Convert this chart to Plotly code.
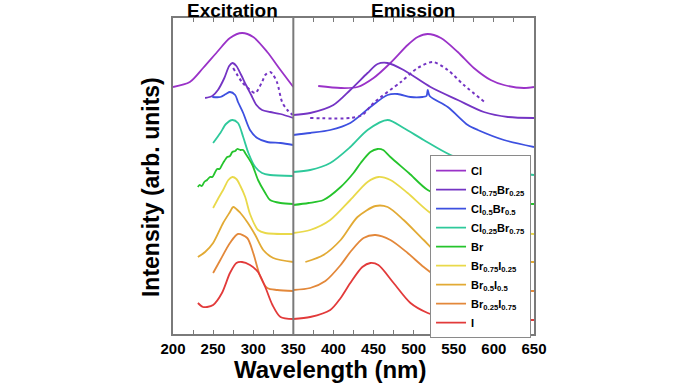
import plotly.graph_objects as go

# ---- data (wavelength in nm, intensity in arb. units incl. vertical offset) ----
names = ["Cl", "Cl<sub>0.75</sub>Br<sub>0.25</sub>", "Cl<sub>0.5</sub>Br<sub>0.5</sub>",
         "Cl<sub>0.25</sub>Br<sub>0.75</sub>", "Br", "Br<sub>0.75</sub>I<sub>0.25</sub>",
         "Br<sub>0.5</sub>I<sub>0.5</sub>", "Br<sub>0.25</sub>I<sub>0.75</sub>", "I"]
colors = ["#9a32c8", "#7434c4", "#3d50e0", "#2ec99b", "#25c42c",
          "#e9d94a", "#e2aa34", "#e3883a", "#e23a3a"]

cl_exc_nm = [200, 221, 237.5, 255, 271, 286, 300, 317.5, 334, 350]
cl_exc_i = [247, 252, 266, 282, 296, 301, 297, 282, 264, 247]
cl_em_nm = [381, 409, 430, 450, 471, 492.5, 505, 517.5, 534, 555, 575, 596, 612.5, 637.5, 650]
cl_em_i = [248, 246, 247, 256, 271, 289, 297, 300, 296, 282, 266, 254, 249, 246, 247]

clbr1_exc_nm = [240, 249, 256, 264, 270, 274, 279, 285, 291, 297.5, 304, 311, 321, 334, 350]
clbr1_exc_i = [236, 238, 244, 256, 268, 271, 268, 259, 249, 239, 229, 224, 222, 220, 216]
clbr1_em_nm = [350, 371, 400, 421, 442.5, 455, 467.5, 487.5, 521, 555, 587.5, 617.5, 650]
clbr1_em_i = [219, 221, 229, 244, 261, 270, 271, 264, 247, 234, 222, 217, 216]

dot_exc_nm = [275, 286, 296, 302.5, 311, 315, 321, 325, 330, 336, 342.5, 349]
dot_exc_i = [266, 252, 244, 241, 252, 259, 262, 259, 251, 232, 224, 219]
dot_em_nm = [371, 421, 436, 450, 484, 505, 524, 542.5, 562.5, 590]
dot_em_i = [216, 216, 219, 231, 252, 266, 272, 264, 249, 231]

clbr2_exc_nm = [249, 259, 266, 271, 277.5, 281, 287.5, 296, 305, 317.5, 334, 350]
clbr2_exc_i = [237, 237, 240, 242, 239, 232, 221, 204, 196, 192, 191, 189]
clbr2_em_nm = [350, 371, 396, 421, 446, 467.5, 480, 496, 511, 516, 517.5, 520, 542.5, 567.5, 580, 612.5, 650]
clbr2_em_i = [199, 201, 204, 211, 227, 239, 240, 237, 237, 238, 244, 238, 227, 209, 204, 194, 187]

clbr3_exc_nm = [250, 259, 266, 274, 281, 287.5, 294, 302.5, 311, 321, 350]
clbr3_exc_i = [191, 201, 210, 214, 211, 197, 181, 167, 161, 159, 158]
clbr3_em_nm = [350, 371, 396, 421, 442.5, 467.5, 487.5, 512.5, 546, 584, 621, 650]
clbr3_em_i = [162, 164, 171, 187, 204, 214, 206, 194, 179, 169, 162, 159]

br_exc_nm = [231, 233, 236, 239, 242.5, 246, 249, 252, 255, 258, 261, 264, 267.5, 271, 274,
             277.5, 280, 284, 287.5, 290, 294, 299, 306, 315, 321, 334, 350]
br_exc_i = [147, 149, 148, 152, 154, 157, 157, 161, 165, 165, 169, 173, 177, 178, 182,
            183, 185, 184, 184, 181, 176, 169, 154, 141, 134, 131, 130]
br_em_nm = [350, 369, 387.5, 409, 425, 434, 446, 455, 462, 471, 494, 517.5, 550, 590, 650]
br_em_i = [129, 131, 134, 147, 161, 171, 182, 185, 184, 177, 161, 144, 134, 131, 130]

bri1_exc_nm = [250, 256, 262.5, 269, 274, 279, 284, 290, 296, 306, 315, 350]
bri1_exc_i = [126, 135, 144, 154, 157, 155, 148, 137, 120, 104, 101, 100]
bri1_em_nm = [350, 371, 396, 421, 442.5, 456, 471, 492.5, 521, 559, 650]
bri1_em_i = [101, 104, 114, 134, 152, 157, 154, 141, 121, 106, 100]

bri2_exc_nm = [231, 240, 250, 262.5, 271, 275, 284, 292.5, 302.5, 312.5, 325, 350]
bri2_exc_i = [77, 82, 91, 111, 122, 127, 121, 112, 99, 84, 76, 72]
bri2_em_nm = [365, 387.5, 409, 430, 452.5, 467.5, 487.5, 512.5, 530, 571, 650]
bri2_em_i = [72, 79, 94, 117, 128, 127, 114, 94, 81, 74, 72]

bri3_exc_nm = [250, 259, 271, 281, 292.5, 300, 309, 317.5, 330, 350]
bri3_exc_i = [61, 74, 91, 100, 96, 81, 57, 46, 44, 43]
bri3_em_nm = [350, 371, 390, 409, 421, 437.5, 452.5, 471, 492.5, 512.5, 530, 571, 650]
bri3_em_i = [44, 46, 53, 69, 82, 96, 99, 94, 81, 67, 57, 46, 43]

i_exc_nm = [231, 237.5, 242.5, 250, 261, 271, 279, 286, 296, 306, 315, 324, 334, 350]
i_exc_i = [31, 27, 27, 29, 41, 61, 71, 72, 69, 62, 47, 29, 17, 15]
i_em_nm = [350, 371, 396, 409, 421, 436, 446, 456, 475, 496, 517.5, 534, 571, 650]
i_em_i = [15, 17, 24, 36, 51, 67, 71, 69, 51, 31, 21, 17, 15, 14]

x_tick_vals = [200, 250, 300, 350, 400, 450, 500, 550, 600, 650]

series = [
    (cl_exc_nm, cl_exc_i, cl_em_nm, cl_em_i),
    (clbr1_exc_nm, clbr1_exc_i, clbr1_em_nm, clbr1_em_i),
    (clbr2_exc_nm, clbr2_exc_i, clbr2_em_nm, clbr2_em_i),
    (clbr3_exc_nm, clbr3_exc_i, clbr3_em_nm, clbr3_em_i),
    (br_exc_nm, br_exc_i, br_em_nm, br_em_i),
    (bri1_exc_nm, bri1_exc_i, bri1_em_nm, bri1_em_i),
    (bri2_exc_nm, bri2_exc_i, bri2_em_nm, bri2_em_i),
    (bri3_exc_nm, bri3_exc_i, bri3_em_nm, bri3_em_i),
    (i_exc_nm, i_exc_i, i_em_nm, i_em_i),
]

FONT = "Liberation Sans, Arial, sans-serif"
fig = go.Figure()

for name, col, (xe, ye, xm, ym) in zip(names, colors, series):
    fig.add_trace(go.Scatter(
        x=list(xe) + [None] + list(xm), y=list(ye) + [None] + list(ym),
        mode="lines", name=name, connectgaps=False,
        line=dict(color=col, width=1.8, shape="spline", smoothing=0.8)))

fig.add_trace(go.Scatter(
    x=dot_exc_nm + [None] + dot_em_nm, y=dot_exc_i + [None] + dot_em_i,
    mode="lines", showlegend=False, connectgaps=False,
    line=dict(color=colors[1], width=2, dash="dot", shape="spline", smoothing=0.8)))

fig.add_shape(type="line", xref="x", yref="paper", x0=350, x1=350, y0=0, y1=1,
              line=dict(color="#7a7a7a", width=2))

fig.update_layout(
    width=679, height=383, autosize=False,
    margin=dict(l=173, r=145, t=18, b=49),
    plot_bgcolor="white", paper_bgcolor="white",
    font=dict(family=FONT, color="black"),
    showlegend=True,
    legend=dict(x=0.712, y=0.566, xanchor="left", yanchor="top",
                bgcolor="white", bordercolor="#8a8a8a", borderwidth=1,
                font=dict(size=11, family=FONT, color="black", weight="bold"),
                tracegroupgap=0, itemwidth=30),
    xaxis=dict(range=[200, 650], tickvals=x_tick_vals, ticks="inside", ticklen=4,
               tickcolor="#7a7a7a", showline=True, linecolor="#7a7a7a", linewidth=1.5,
               mirror="allticks", showgrid=False, zeroline=False,
               tickfont=dict(size=15, family=FONT, color="black", weight="bold"),
               minor=dict(dtick=25, ticks="inside", ticklen=4, tickcolor="#7a7a7a")),
    yaxis=dict(range=[0, 316], showticklabels=False, ticks="", showline=True,
               linecolor="#7a7a7a", linewidth=1.5, mirror=True, showgrid=False,
               zeroline=False),
    annotations=[
        dict(text="<b>Excitation</b>", x=0.166, y=1.025, xref="paper", yref="paper",
             xanchor="center", yanchor="middle", showarrow=False,
             font=dict(size=19, family=FONT, color="black")),
        dict(text="<b>Emission</b>", x=0.665, y=1.025, xref="paper", yref="paper",
             xanchor="center", yanchor="middle", showarrow=False,
             font=dict(size=19, family=FONT, color="black")),
        dict(text="<b>Wavelength (nm)</b>", x=0.435, y=-0.112, xref="paper", yref="paper",
             xanchor="center", yanchor="middle", showarrow=False,
             font=dict(size=24, family=FONT, color="black")),
        dict(text="<b>Intensity (arb. units)</b>", x=-0.061, y=0.465, xref="paper",
             yref="paper", xanchor="center", yanchor="middle", showarrow=False,
             textangle=-90, font=dict(size=23, family=FONT, color="black")),
    ],
)

# remove the default 8px page margin so the figure sits at the window origin
fig.write_html("out.html", config={"displayModeBar": False},
               post_script="document.body.style.margin='0';document.body.style.overflow='hidden';")
